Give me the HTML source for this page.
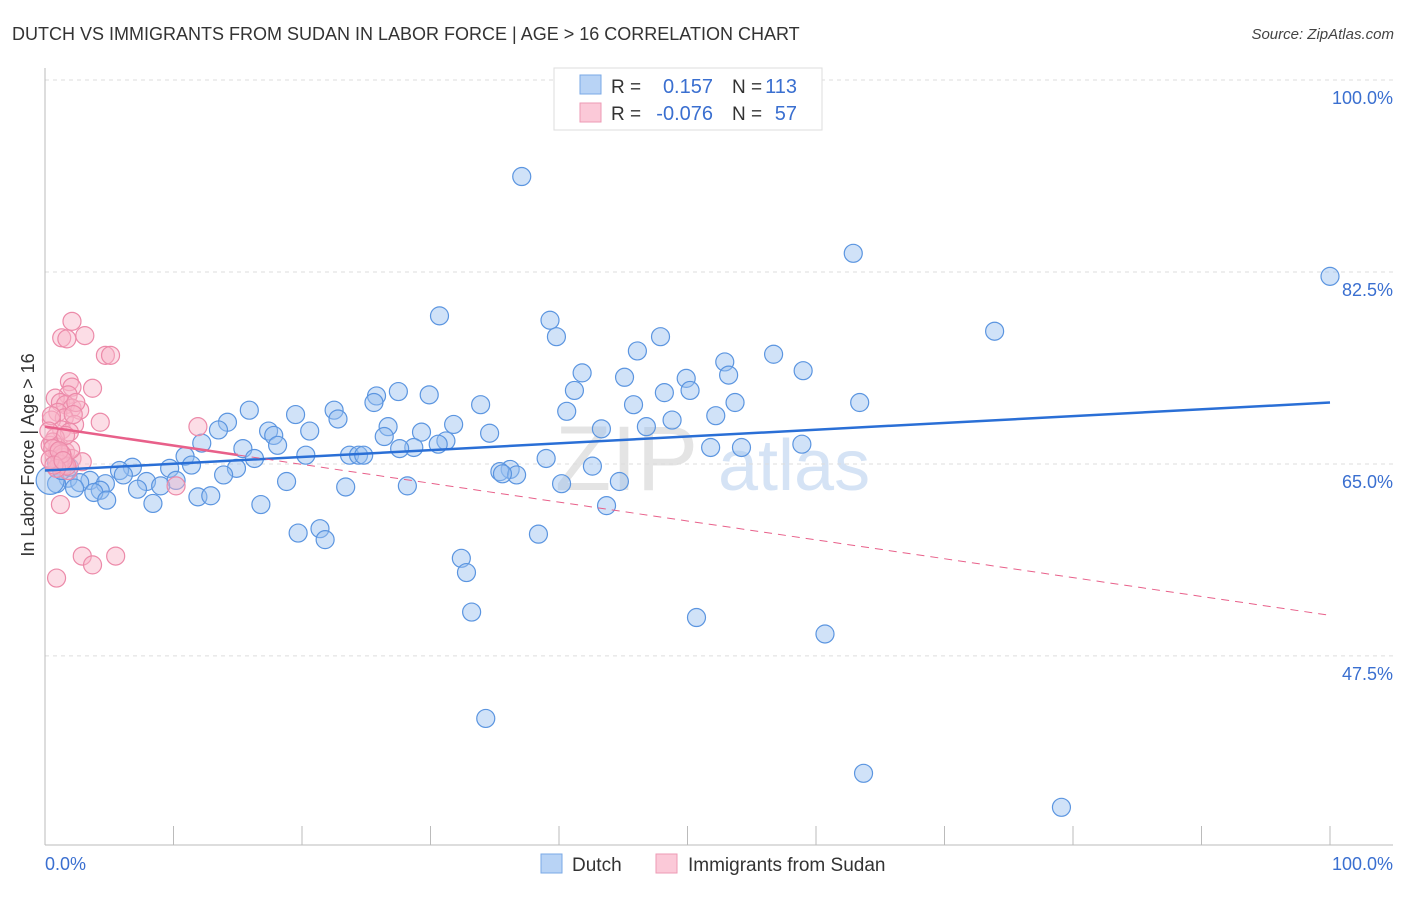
<!DOCTYPE html>
<html><head><meta charset="utf-8"><style>
body{margin:0;background:#fff;font-family:"Liberation Sans",sans-serif;}
svg text{font-family:"Liberation Sans",sans-serif;}
</style></head><body>
<svg width="1406" height="892" xmlns="http://www.w3.org/2000/svg">
<text x="12" y="40" font-size="18" fill="#333">DUTCH VS IMMIGRANTS FROM SUDAN IN LABOR FORCE | AGE &gt; 16 CORRELATION CHART</text>
<text x="1394" y="39" font-size="15" fill="#444" text-anchor="end" font-style="italic">Source: ZipAtlas.com</text>
<g><text x="555" y="490" font-size="92" fill="#e4e4e4" font-family="Liberation Serif">ZIP</text><text x="718" y="490" font-size="72" fill="#d5e3f5">atlas</text></g>
<g id="grid"></g>
<g id="axes"></g>
<g id="pts"></g>
<g id="trend"></g>
<text transform="translate(34,455) rotate(-90)" font-size="18" fill="#333" text-anchor="middle">In Labor Force | Age &gt; 16</text>
<g>
<rect x="554" y="68" width="268" height="62" fill="#fff" stroke="#ddd"/>
<rect x="580" y="75" width="21" height="19" fill="#b8d3f5" stroke="#7aa8e6"/>
<rect x="580" y="103" width="21" height="19" fill="#fbc9d8" stroke="#ee9ab4"/>
<text x="611" y="93" font-size="19" fill="#333">R =</text><text x="713" y="93" font-size="20" fill="#3a6fd0" text-anchor="end">0.157</text>
<text x="732" y="93" font-size="19" fill="#333">N =</text><text x="797" y="93" font-size="20" fill="#3a6fd0" text-anchor="end">113</text>
<text x="611" y="120" font-size="19" fill="#333">R =</text><text x="713" y="120" font-size="20" fill="#3a6fd0" text-anchor="end">-0.076</text>
<text x="732" y="120" font-size="19" fill="#333">N =</text><text x="797" y="120" font-size="20" fill="#3a6fd0" text-anchor="end">57</text>
</g>
<g>
<rect x="541" y="854" width="21" height="19" fill="#b8d3f5" stroke="#7aa8e6"/>
<text x="572" y="871" font-size="19" fill="#333">Dutch</text>
<rect x="656" y="854" width="21" height="19" fill="#fbc9d8" stroke="#ee9ab4"/>
<text x="688" y="871" font-size="19" fill="#333">Immigrants from Sudan</text>
</g>
</svg>
<script>
const yTicks=[100,82.5,65,47.5];
const yTickLabels=["100.0%","82.5%","65.0%","47.5%"];
const xTickLabels=["0.0%","100.0%"];
const dutchX=[37.1,62.9,100,30.7,39.3,39.8,47.9,73.9,46.1,56.7,52.9,41.8,53.2,59.0,45.1,49.9,50.2,41.2,48.2,27.5,29.9,25.8,25.6,33.9,45.8,53.7,63.4,40.6,52.2,48.8,15.9,19.5,22.5,22.8,14.2,26.7,31.8,46.8,43.3,13.5,17.4,20.6,17.8,26.4,29.3,34.6,31.2,30.6,12.2,18.1,28.7,27.6,51.8,54.2,58.9,15.4,10.9,16.3,20.3,23.7,24.4,24.8,39.0,11.4,6.8,9.7,5.8,14.9,42.6,36.2,35.4,36.7,35.6,6.1,13.9,1.8,3.5,4.7,2.7,7.9,10.2,18.8,44.7,9.0,0.9,2.3,4.3,7.2,23.4,28.2,40.2,3.8,11.9,12.9,4.8,8.4,16.8,43.7,0.4,19.7,21.4,21.8,38.4,32.4,32.8,33.2,50.7,60.7,34.3,63.7,79.1,0.9,1.3,1.9,1.2];
const dutchY=[91.2,84.2,82.1,78.5,78.1,76.6,76.6,77.1,75.3,75.0,74.3,73.3,73.1,73.5,72.9,72.8,71.7,71.7,71.5,71.6,71.3,71.2,70.6,70.4,70.4,70.6,70.6,69.8,69.4,69.0,69.9,69.5,69.9,69.1,68.8,68.4,68.6,68.4,68.2,68.1,68.0,68.0,67.6,67.5,67.9,67.8,67.1,66.8,66.9,66.7,66.5,66.4,66.5,66.5,66.8,66.4,65.7,65.5,65.8,65.8,65.8,65.8,65.5,64.9,64.7,64.6,64.4,64.6,64.8,64.5,64.3,64.0,64.1,64.0,64.0,63.7,63.5,63.2,63.3,63.4,63.5,63.4,63.4,63.0,63.2,62.8,62.6,62.7,62.9,63.0,63.2,62.4,62.0,62.1,61.7,61.4,61.3,61.2,63.5,58.7,59.1,58.1,58.6,56.4,55.1,51.5,51.0,49.5,41.8,36.8,33.7,65.1,64.4,64.7,65.5];
const sudanX=[2.1,1.3,1.7,3.1,4.7,5.1,1.9,2.1,1.8,3.7,0.8,1.2,1.6,2.1,2.7,1.0,1.5,0.5,2.3,1.3,1.9,0.8,0.4,1.0,1.6,2.1,1.2,0.7,1.5,1.8,4.3,11.9,10.2,2.9,1.2,2.9,3.7,5.5,0.9,0.5,1.0,1.4,0.6,2.0,1.1,0.3,1.7,2.4,0.6,1.3,0.9,1.6,0.4,1.1,2.2,0.7,1.4];
const sudanY=[78.0,76.5,76.4,76.7,74.9,74.9,72.5,72.0,71.3,71.9,71.0,70.6,70.4,70.1,69.9,69.7,69.2,69.0,68.6,68.1,67.9,67.4,66.7,66.5,66.1,65.5,65.2,65.8,64.9,64.4,68.8,68.4,63.0,65.2,61.3,56.6,55.8,56.6,54.6,69.4,66.0,65.6,67.0,66.3,65.0,68.0,64.8,70.6,66.4,65.9,64.6,67.6,65.4,66.2,69.5,64.9,65.3];
const dutchTrend=[64.4,70.6];
const sudanTrend=[68.4,51.2];
const sudanSolidEnd=15;
const NS="http://www.w3.org/2000/svg";
const X=v=>45+v*12.85, Y=v=>80+(100-v)*10.97;
function mk(t,a,p){const e=document.createElementNS(NS,t);for(const k in a)e.setAttribute(k,a[k]);p.appendChild(e);return e;}
const grid=document.getElementById('grid'),axes=document.getElementById('axes');
yTicks.forEach((t,i)=>{
 const l=mk('line',{x1:45,x2:1393,y1:Y(t),y2:Y(t),stroke:'#ddd','stroke-dasharray':'4,4'},grid);
 
 
 const tx=mk('text',{x:1393,y:Y(t)+24,'font-size':18,fill:'#3a6fd0','text-anchor':'end'},axes);
 tx.textContent=yTickLabels[i];
 
 
});
mk('line',{x1:45,x2:45,y1:68,y2:845,stroke:'#bbb'},axes);
mk('line',{x1:45,x2:1393,y1:845,y2:845,stroke:'#bbb'},axes);
for(let i=0;i<=10;i++){mk('line',{x1:X(i*10),x2:X(i*10),y1:826,y2:845,stroke:'#bbb'},axes);}
[[0,45,'start'],[1,1393,'end']].forEach(([i,x,a])=>{const t=mk('text',{x:x,y:870,'font-size':18,fill:'#3a6fd0','text-anchor':a},axes);t.textContent=xTickLabels[i];
 
 });
const pts=document.getElementById('pts');
dutchX.forEach((x,i)=>{const c=mk('circle',{cx:X(x),cy:Y(dutchY[i]),r:i==98?14:9,fill:'rgba(150,190,240,0.45)',stroke:'#5b95e0','stroke-width':1.2},pts);
 
 });
sudanX.forEach((x,i)=>{const c=mk('circle',{cx:X(x),cy:Y(sudanY[i]),r:9,fill:'rgba(248,180,200,0.45)',stroke:'#ec8aa9','stroke-width':1.2},pts);
 
 });
const tr=document.getElementById('trend');
const dl=mk('line',{x1:X(0),y1:Y(dutchTrend[0]),x2:X(100),y2:Y(dutchTrend[1]),stroke:'#2a6fd6','stroke-width':2.5},tr);


const sAt=v=>sudanTrend[0]+(sudanTrend[1]-sudanTrend[0])*v/100;
const sl=mk('line',{x1:X(0),y1:Y(sAt(0)),x2:X(sudanSolidEnd),y2:Y(sAt(sudanSolidEnd)),stroke:'#e8608a','stroke-width':2.5},tr);


const sd=mk('line',{x1:X(sudanSolidEnd),y1:Y(sAt(sudanSolidEnd)),x2:X(100),y2:Y(sAt(100)),stroke:'#e8608a','stroke-width':1,'stroke-dasharray':'8,6'},tr);


</script>
</body></html>
